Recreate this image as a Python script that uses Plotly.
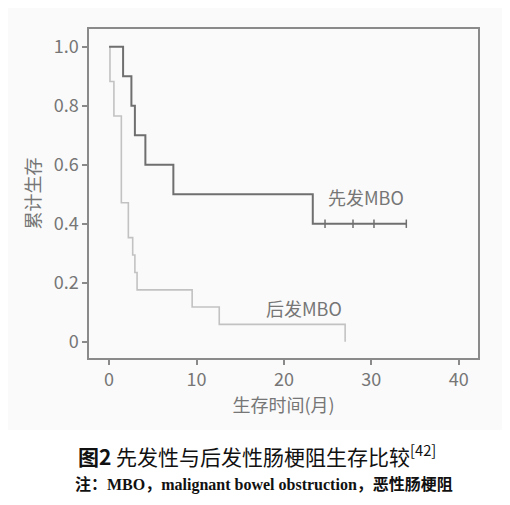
import plotly.graph_objects as go

# 先发MBO (primary) Kaplan-Meier steps
primary_times = [0, 1.6, 2.55, 2.95, 4.15, 7.35, 23.3, 34.0]
primary_surv = [1.0, 0.9, 0.8, 0.7, 0.6, 0.5, 0.4, 0.4]
primary_censor_times = [24.7, 27.9, 30.3, 34.0]
primary_censor_surv = [0.4, 0.4, 0.4, 0.4]

# 后发MBO (secondary) Kaplan-Meier steps
secondary_times = [0, 0.1, 0.55, 1.4, 2.2, 2.7, 2.95, 3.2, 9.5, 12.6, 27.0]
secondary_surv = [1.0, 0.882, 0.765, 0.471, 0.353, 0.294, 0.235, 0.176, 0.118, 0.059, 0.0]

x_ticks = [0, 10, 20, 30, 40]
y_ticks = [0, 0.2, 0.4, 0.6, 0.8, 1.0]
y_tick_labels = ["0", "0.2", "0.4", "0.6", "0.8", "1.0"]

TEXT = "#767676"
FRAME = "#8a8a8a"
CJK = "Noto Sans CJK SC, Noto Sans, sans-serif"

fig = go.Figure()
fig.add_trace(go.Scatter(x=secondary_times, y=secondary_surv, mode="lines",
                         line=dict(shape="hv", color="#c2c2c2", width=1.6),
                         showlegend=False, hoverinfo="skip"))
fig.add_trace(go.Scatter(x=primary_times, y=primary_surv, mode="lines",
                         line=dict(shape="hv", color="#6f6f6f", width=2),
                         showlegend=False, hoverinfo="skip"))
fig.add_trace(go.Scatter(x=primary_censor_times, y=primary_censor_surv, mode="markers",
                         marker=dict(symbol="line-ns", size=6,
                                     line=dict(color="#6f6f6f", width=1.5)),
                         showlegend=False, hoverinfo="skip"))

fig.add_annotation(x=29.4, y=0.49, text="先发MBO", showarrow=False,
                   font=dict(family=CJK, size=18, color=TEXT))
fig.add_annotation(x=22.3, y=0.114, text="后发MBO", showarrow=False,
                   font=dict(family=CJK, size=18, color=TEXT))

# captions
fig.add_annotation(xref="paper", yref="paper", x=0.432, y=-0.295,
                   text="<b>图2</b> 先发性与后发性肠梗阻生存比较<sup>[42]</sup>",
                   showarrow=False, xanchor="center", yanchor="middle",
                   font=dict(family=CJK, size=21, color="#111111"))
fig.add_annotation(xref="paper", yref="paper", x=0.45, y=-0.386,
                   text="<b>注：MBO，malignant bowel obstruction，恶性肠梗阻</b>",
                   showarrow=False, xanchor="center", yanchor="middle",
                   font=dict(family="Liberation Serif, Noto Sans CJK SC, serif", size=16, color="#111111"))

fig.add_shape(type="rect", xref="paper", yref="paper", x0=-0.25, x1=1.1, y0=-0.219, y1=1.1,
              fillcolor="#fafafa", line=dict(width=0), layer="below")

fig.update_layout(
    width=502, height=497,
    margin=dict(l=81, r=32, t=21, b=147),
    paper_bgcolor="white", plot_bgcolor="#fdfdfd",
    font=dict(family=CJK, color=TEXT, size=18),
    xaxis=dict(range=[-2.3, 42.2], tickvals=x_ticks, ticks="outside", ticklen=5,
               tickcolor=FRAME, tickwidth=1.5, showgrid=False, zeroline=False,
               showline=True, linecolor=FRAME, linewidth=1.5, mirror=True,
               tickfont=dict(size=18, color=TEXT),
               title=dict(text="生存时间(月)", standoff=6, font=dict(size=18, color=TEXT))),
    yaxis=dict(range=[-0.055, 1.06], tickvals=y_ticks, ticktext=y_tick_labels,
               ticks="outside", ticklen=5, tickcolor=FRAME, tickwidth=1.5,
               showgrid=False, zeroline=False, showline=True, linecolor=FRAME,
               linewidth=1.5, mirror=True, tickfont=dict(size=18, color=TEXT),
               title=dict(text="累计生存", standoff=8, font=dict(size=18, color=TEXT))),
)

fig.write_html("out.html")
